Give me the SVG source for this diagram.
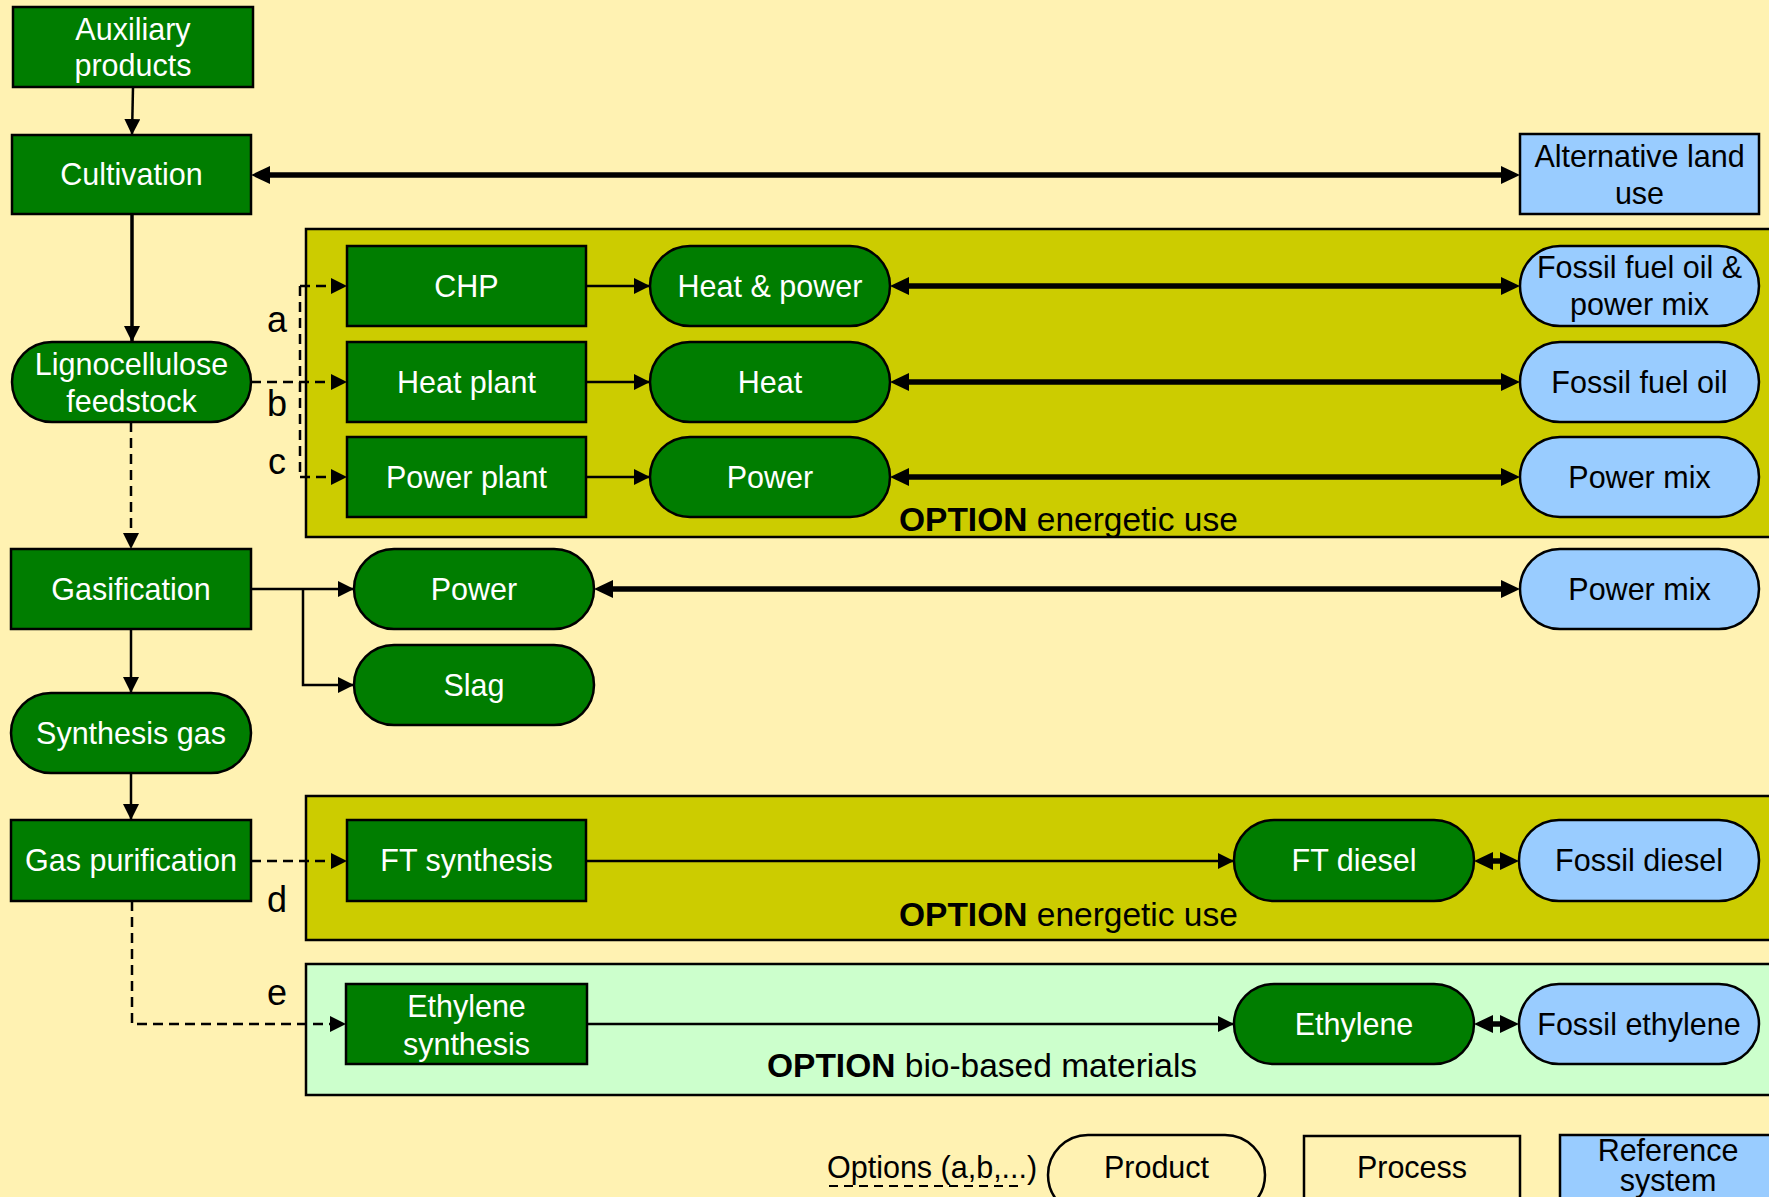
<svg xmlns="http://www.w3.org/2000/svg" width="1769" height="1197" viewBox="0 0 1769 1197">
  <style>
    .proc { fill: #007D00; stroke: #000; stroke-width: 2.5; }
    .prod { fill: #007D00; stroke: #000; stroke-width: 2.5; }
    .ref { fill: #99CCFF; stroke: #000; stroke-width: 2.5; }
    .leg { fill: none; stroke: #000; stroke-width: 2.5; }
    .optE { fill: #CCCC00; stroke: #000; stroke-width: 2.5; }
    .optM { fill: #CCFFCC; stroke: #000; stroke-width: 2.5; }
    text { font-family: "Liberation Sans", Arial, sans-serif; font-size: 30.5px; text-anchor: middle; }
    .w { fill: #fff; }
    .k { fill: #000; }
    .lbl { font-size: 36px; fill: #000; }
    .opt { font-size: 33.5px; fill: #000; text-anchor: start; }
    .opt tspan.b { font-weight: bold; }
    .thin { fill: none; stroke: #000; stroke-width: 2.5; }
    .mid { fill: none; stroke: #000; stroke-width: 3.5; }
    .dash { fill: none; stroke: #000; stroke-width: 2.5; stroke-dasharray: 10 6; }
    .thick { fill: none; stroke: #000; stroke-width: 5.5; }
  </style>
  <defs>
    <marker id="ah" markerUnits="userSpaceOnUse" markerWidth="16" markerHeight="16" refX="16" refY="8" orient="auto">
      <path d="M0,0 L16,8 L0,16 z" fill="#000"/>
    </marker>
    <marker id="ahBig" markerUnits="userSpaceOnUse" markerWidth="19" markerHeight="18" refX="9" refY="9" orient="auto-start-reverse">
      <path d="M0,0 L19,9 L0,18 z" fill="#000"/>
    </marker>
  </defs>

  <!-- background -->
  <rect x="0" y="0" width="1769" height="1197" fill="#FFF2B2"/>

  <!-- option panels -->
  <g id="option-energetic-1">
    <rect class="optE" x="306" y="229" width="1470" height="308"/>
    <text class="opt" x="899" y="531"><tspan class="b">OPTION</tspan> energetic use</text>
  </g>
  <g id="option-energetic-2">
    <rect class="optE" x="306" y="796" width="1470" height="144"/>
    <text class="opt" x="899" y="926"><tspan class="b">OPTION</tspan> energetic use</text>
  </g>
  <g id="option-materials">
    <rect class="optM" x="306" y="964" width="1470" height="131"/>
    <text class="opt" x="767" y="1077"><tspan class="b">OPTION</tspan> bio-based materials</text>
  </g>

  <!-- connectors -->
  <g id="connectors">
    <path class="thin" d="M133,87 L132,135" marker-end="url(#ah)"/>
    <path class="thick" d="M261,175 H1510" marker-start="url(#ahBig)" marker-end="url(#ahBig)"/>
    <path class="mid" d="M132,214 V342" marker-end="url(#ah)"/>
    <path class="dash" d="M131,422 V549" marker-end="url(#ah)"/>

    <!-- options a, b, c -->
    <path class="dash" d="M251,382 H347" marker-end="url(#ah)"/>
    <path class="dash" d="M300,286 V477"/>
    <path class="dash" d="M300,286 H347" marker-end="url(#ah)"/>
    <path class="dash" d="M300,477 H347" marker-end="url(#ah)"/>

    <path class="thin" d="M586,286 H650" marker-end="url(#ah)"/>
    <path class="thin" d="M586,382 H650" marker-end="url(#ah)"/>
    <path class="thin" d="M586,477 H650" marker-end="url(#ah)"/>

    <path class="thick" d="M900,286 H1510" marker-start="url(#ahBig)" marker-end="url(#ahBig)"/>
    <path class="thick" d="M900,382 H1510" marker-start="url(#ahBig)" marker-end="url(#ahBig)"/>
    <path class="thick" d="M900,477 H1510" marker-start="url(#ahBig)" marker-end="url(#ahBig)"/>

    <!-- gasification outputs -->
    <path class="thin" d="M251,589 H354" marker-end="url(#ah)"/>
    <path class="thin" d="M303,589 V685 H354" marker-end="url(#ah)"/>
    <path class="thick" d="M604,589 H1510" marker-start="url(#ahBig)" marker-end="url(#ahBig)"/>
    <path class="thin" d="M131,629 V693" marker-end="url(#ah)"/>
    <path class="thin" d="M131,773 V820" marker-end="url(#ah)"/>

    <!-- options d, e -->
    <path class="dash" d="M251,861 H347" marker-end="url(#ah)"/>
    <path class="thin" d="M586,861 H1234" marker-end="url(#ah)"/>
    <path class="thick" d="M1484,861 H1509" marker-start="url(#ahBig)" marker-end="url(#ahBig)"/>
    <path class="dash" d="M132,901 V1024 H346" marker-end="url(#ah)"/>
    <path class="thin" d="M587,1024 H1234" marker-end="url(#ah)"/>
    <path class="thick" d="M1484,1024 H1509" marker-start="url(#ahBig)" marker-end="url(#ahBig)"/>
  </g>

  <!-- option letters -->
  <g id="option-letters">
    <text class="lbl" x="277" y="332">a</text>
    <text class="lbl" x="277" y="416">b</text>
    <text class="lbl" x="277" y="474">c</text>
    <text class="lbl" x="277" y="912">d</text>
    <text class="lbl" x="277" y="1005">e</text>
  </g>

  <!-- nodes -->
  <g id="auxiliary-products">
    <rect class="proc" x="13" y="7" width="240" height="80"/>
    <text class="w" x="133" y="40">Auxiliary</text>
    <text class="w" x="133" y="76">products</text>
  </g>
  <g id="cultivation">
    <rect class="proc" x="12" y="135" width="239" height="79"/>
    <text class="w" x="131.5" y="185">Cultivation</text>
  </g>
  <g id="alternative-land-use">
    <rect class="ref" x="1520" y="134" width="239" height="80"/>
    <text class="k" x="1639.5" y="167">Alternative land</text>
    <text class="k" x="1639.5" y="204">use</text>
  </g>
  <g id="lignocellulose-feedstock">
    <rect class="prod" x="12" y="342" width="239" height="80" rx="40" ry="40"/>
    <text class="w" x="131.5" y="375">Lignocellulose</text>
    <text class="w" x="131.5" y="412">feedstock</text>
  </g>
  <g id="chp">
    <rect class="proc" x="347" y="246" width="239" height="80"/>
    <text class="w" x="466.5" y="297">CHP</text>
  </g>
  <g id="heat-plant">
    <rect class="proc" x="347" y="342" width="239" height="80"/>
    <text class="w" x="466.5" y="393">Heat plant</text>
  </g>
  <g id="power-plant">
    <rect class="proc" x="347" y="437" width="239" height="80"/>
    <text class="w" x="466.5" y="488">Power plant</text>
  </g>
  <g id="heat-and-power">
    <rect class="prod" x="650" y="246" width="240" height="80" rx="40" ry="40"/>
    <text class="w" x="770" y="297">Heat &amp; power</text>
  </g>
  <g id="heat">
    <rect class="prod" x="650" y="342" width="240" height="80" rx="40" ry="40"/>
    <text class="w" x="770" y="393">Heat</text>
  </g>
  <g id="power-1">
    <rect class="prod" x="650" y="437" width="240" height="80" rx="40" ry="40"/>
    <text class="w" x="770" y="488">Power</text>
  </g>
  <g id="fossil-fuel-oil-power-mix">
    <rect class="ref" x="1520" y="246" width="239" height="80" rx="40" ry="40"/>
    <text class="k" x="1639.5" y="278">Fossil fuel oil &amp;</text>
    <text class="k" x="1639.5" y="315">power mix</text>
  </g>
  <g id="fossil-fuel-oil">
    <rect class="ref" x="1520" y="342" width="239" height="80" rx="40" ry="40"/>
    <text class="k" x="1639.5" y="393">Fossil fuel oil</text>
  </g>
  <g id="power-mix-1">
    <rect class="ref" x="1520" y="437" width="239" height="80" rx="40" ry="40"/>
    <text class="k" x="1639.5" y="488">Power mix</text>
  </g>
  <g id="gasification">
    <rect class="proc" x="11" y="549" width="240" height="80"/>
    <text class="w" x="131" y="600">Gasification</text>
  </g>
  <g id="power-2">
    <rect class="prod" x="354" y="549" width="240" height="80" rx="40" ry="40"/>
    <text class="w" x="474" y="600">Power</text>
  </g>
  <g id="slag">
    <rect class="prod" x="354" y="645" width="240" height="80" rx="40" ry="40"/>
    <text class="w" x="474" y="696">Slag</text>
  </g>
  <g id="power-mix-2">
    <rect class="ref" x="1520" y="549" width="239" height="80" rx="40" ry="40"/>
    <text class="k" x="1639.5" y="600">Power mix</text>
  </g>
  <g id="synthesis-gas">
    <rect class="prod" x="11" y="693" width="240" height="80" rx="40" ry="40"/>
    <text class="w" x="131" y="744">Synthesis gas</text>
  </g>
  <g id="gas-purification">
    <rect class="proc" x="11" y="820" width="240" height="81"/>
    <text class="w" x="131" y="871">Gas purification</text>
  </g>
  <g id="ft-synthesis">
    <rect class="proc" x="347" y="820" width="239" height="81"/>
    <text class="w" x="466.5" y="871">FT synthesis</text>
  </g>
  <g id="ft-diesel">
    <rect class="prod" x="1234" y="820" width="240" height="81" rx="40" ry="40"/>
    <text class="w" x="1354" y="871">FT diesel</text>
  </g>
  <g id="fossil-diesel">
    <rect class="ref" x="1519" y="820" width="240" height="81" rx="40" ry="40"/>
    <text class="k" x="1639" y="871">Fossil diesel</text>
  </g>
  <g id="ethylene-synthesis">
    <rect class="proc" x="346" y="984" width="241" height="80"/>
    <text class="w" x="466.5" y="1017">Ethylene</text>
    <text class="w" x="466.5" y="1055">synthesis</text>
  </g>
  <g id="ethylene">
    <rect class="prod" x="1234" y="984" width="240" height="80" rx="40" ry="40"/>
    <text class="w" x="1354" y="1035">Ethylene</text>
  </g>
  <g id="fossil-ethylene">
    <rect class="ref" x="1519" y="984" width="240" height="80" rx="40" ry="40"/>
    <text class="k" x="1639" y="1035">Fossil ethylene</text>
  </g>

  <!-- legend -->
  <g id="legend">
    <text class="k" x="827" y="1178" style="text-anchor:start">Options (a,b,...)</text>
    <path d="M829,1186 H1024" fill="none" stroke="#000" stroke-width="2" stroke-dasharray="9 6"/>
    <rect class="leg" x="1048" y="1135" width="217" height="80" rx="40" ry="40"/>
    <text class="k" x="1156.5" y="1178">Product</text>
    <rect class="leg" x="1304" y="1136" width="216" height="80"/>
    <text class="k" x="1412" y="1178">Process</text>
    <rect class="ref" x="1560" y="1135" width="217" height="80"/>
    <text class="k" x="1668" y="1161">Reference</text>
    <text class="k" x="1668" y="1191">system</text>
  </g>
</svg>
